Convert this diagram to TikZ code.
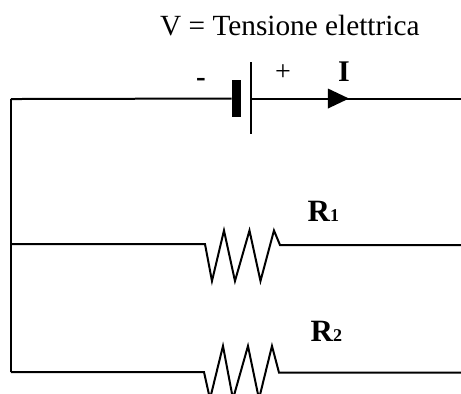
\documentclass[tikz,border=0pt]{standalone}
\usepackage{fontspec}
\setmainfont{Liberation Serif}
\tikzset{
  wire/.style={line width=2pt, line join=miter},
  lab/.style={inner sep=0pt, anchor=base west},
}
\begin{document}
\begin{tikzpicture}[scale=.03515]
\useasboundingbox (0,0) rectangle (461,394);
\clip (0,0) rectangle (461,394);
\node[lab, font=\fontsize{29.3}{29}\selectfont] (title) at (160,358){V = Tensione elettrica};
\node[lab, font=\fontsize{29}{29}\selectfont\bfseries] (minus) at (196,307){-};
\node[lab, font=\fontsize{28}{28}\selectfont] (plus) at (275,313){+};
\node[lab, font=\fontsize{30}{30}\selectfont\bfseries] (curr) at (338,312){I};
\node[lab, font=\fontsize{31}{31}\selectfont\bfseries] (rlab1) at (307.5,172){R\fontsize{18}{18}\selectfont 1};
\node[lab, font=\fontsize{31}{31}\selectfont\bfseries] (rlab2) at (310.5,52){R\fontsize{18}{18}\selectfont 2};
\coordinate (topleft) at (11,295);
\coordinate (midleft) at (11,150);
\coordinate (botleft) at (11,22);
\coordinate (topright) at (461,295.5);
\coordinate (midright) at (461,149);
\coordinate (botright) at (461,21.5);
\node[rectangle, fill, inner sep=0pt, minimum width=9.5pt, minimum height=37.5pt] (neg) at (236.5,295.5){};
\coordinate (postop) at (251,332);
\coordinate (posbot) at (251,260);
\coordinate (poswire) at (251,295.5);
\coordinate (tip) at (349,295.5);
\coordinate (arrtop) at (328,305.5);
\coordinate (arrbot) at (328,285.5);
\draw[wire](topleft) -- (neg);
\draw[wire](postop) -- (posbot);
\draw[wire](poswire) -- (topright);
\fill (arrtop) -- (tip) -- (arrbot) -- cycle;
\draw[wire](topleft) -- (botleft);
\coordinate (ra0) at (205,150);
\coordinate (ra1) at (212,113);
\coordinate (ra2) at (224,163.5);
\coordinate (ra3) at (235,113);
\coordinate (ra4) at (249.5,163.5);
\coordinate (ra5) at (260.5,113);
\coordinate (ra6) at (274,163.5);
\coordinate (ra7) at (280,149);
\draw[wire](midleft) -- (ra0) -- (ra1) -- (ra2) -- (ra3) -- (ra4) -- (ra5) -- (ra6) -- (ra7) -- (midright);
\coordinate (rb0) at (204,22);
\coordinate (rb1) at (210,-5);
\coordinate (rb2) at (223,48);
\coordinate (rb3) at (233,-5);
\coordinate (rb4) at (248,48);
\coordinate (rb5) at (259,-5);
\coordinate (rb6) at (272,48);
\coordinate (rb7) at (279,21.5);
\draw[wire](botleft) -- (rb0) -- (rb1) -- (rb2) -- (rb3) -- (rb4) -- (rb5) -- (rb6) -- (rb7) -- (botright);
\end{tikzpicture}
\end{document}
